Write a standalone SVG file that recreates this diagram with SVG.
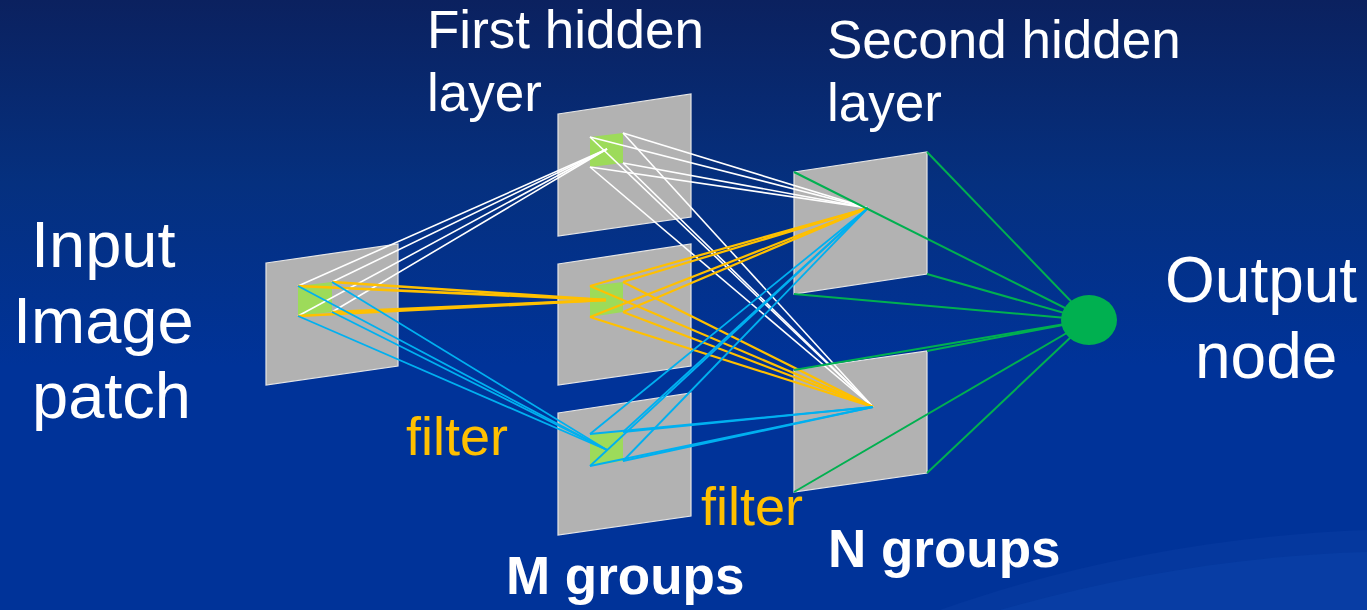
<svg xmlns="http://www.w3.org/2000/svg" width="1367" height="610" viewBox="0 0 1367 610">
<defs>
<linearGradient id="bg" x1="0" y1="0" x2="0" y2="1">
<stop offset="0" stop-color="#0b215f"/>
<stop offset="0.3" stop-color="#05307f"/>
<stop offset="0.6" stop-color="#003399"/>
<stop offset="1" stop-color="#003399"/>
</linearGradient>
<style>
.plane{fill:#b2b2b2;stroke:#e6e6e6;stroke-width:1.2}
.patch{fill:#9ddb5a}
.w{stroke:#ffffff;stroke-width:1.6;fill:none}
.y{stroke:#ffc000;stroke-width:2.2;fill:none}
.b{stroke:#00b0f0;stroke-width:1.8;fill:none}
.g{stroke:#00b050;stroke-width:2;fill:none}
.t{font-family:"Liberation Sans",Arial,sans-serif;fill:#ffffff}
.f{font-family:"Liberation Sans",Arial,sans-serif;fill:#ffc000}
</style>
</defs>
<rect x="0" y="0" width="1367" height="610" fill="url(#bg)"/>
<path d="M940,610 C1080,560 1230,535 1367,530 L1367,610 Z" fill="#0a3fa3" opacity="0.45"/>
<path d="M1000,610 C1120,575 1250,555 1367,552 L1367,610 Z" fill="#0d46ad" opacity="0.4"/>

<g id="input-patch">
<polygon class="plane" points="266,263 398,244 398,366 266,385"/>
<polygon class="patch" points="298,286 332,282 332,312 298,316"/>
</g>
<g id="hidden1-a">
<polygon class="plane" points="558,114 691,94 691,217 558,236"/>
<polygon class="patch" points="590,137 623,133 623,163 590,167"/>
</g>
<g id="hidden1-b">
<polygon class="plane" points="558,264 691,244 691,366 558,385"/>
<polygon class="patch" points="590,286 623,282 623,312 590,317"/>
</g>
<g id="hidden1-c">
<polygon class="plane" points="558,413 691,393 691,516 558,535"/>
<polygon class="patch" points="590,434 623,432 623,461 590,466"/>
</g>
<g id="hidden2-a">
<polygon class="plane" points="794,172 927,152 927,274 794,294"/>
</g>
<g id="hidden2-b">
<polygon class="plane" points="794,370 927,351 927,473 794,492"/>
</g>

<g id="connectors">
<g class="w">
<line x1="298" y1="286" x2="607" y2="149"/>
<line x1="332" y1="282" x2="607" y2="149"/>
<line x1="332" y1="312" x2="607" y2="149"/>
<line x1="298" y1="316" x2="607" y2="149"/>
</g>
<g class="y" style="stroke-width:2.6">
<line x1="298" y1="286" x2="606" y2="300"/>
<line x1="332" y1="282" x2="606" y2="300"/>
<line x1="332" y1="312" x2="606" y2="300"/>
<line x1="298" y1="316" x2="606" y2="300"/>
</g>
<g class="b">
<line x1="298" y1="286" x2="607" y2="450"/>
<line x1="332" y1="282" x2="607" y2="450"/>
<line x1="332" y1="312" x2="607" y2="450"/>
<line x1="298" y1="316" x2="607" y2="450"/>
</g>
<g class="w">
<line x1="590" y1="137" x2="868" y2="208"/>
<line x1="623" y1="133" x2="868" y2="208"/>
<line x1="623" y1="163" x2="868" y2="208"/>
<line x1="590" y1="167" x2="868" y2="208"/>
<line x1="590" y1="137" x2="873" y2="407"/>
<line x1="623" y1="133" x2="873" y2="407"/>
<line x1="623" y1="163" x2="873" y2="407"/>
<line x1="590" y1="167" x2="873" y2="407"/>
</g>
<g class="y">
<line x1="590" y1="286" x2="868" y2="208"/>
<line x1="623" y1="282" x2="868" y2="208"/>
<line x1="623" y1="312" x2="868" y2="208"/>
<line x1="590" y1="317" x2="868" y2="208"/>
<line x1="590" y1="286" x2="873" y2="407"/>
<line x1="623" y1="282" x2="873" y2="407"/>
<line x1="623" y1="312" x2="873" y2="407"/>
<line x1="590" y1="317" x2="873" y2="407"/>
</g>
<g class="b">
<line x1="590" y1="434" x2="868" y2="208"/>
<line x1="623" y1="432" x2="868" y2="208"/>
<line x1="623" y1="461" x2="868" y2="208"/>
<line x1="590" y1="466" x2="868" y2="208"/>
<line x1="590" y1="434" x2="873" y2="407"/>
<line x1="623" y1="432" x2="873" y2="407"/>
<line x1="623" y1="461" x2="873" y2="407"/>
<line x1="590" y1="466" x2="873" y2="407"/>
</g>
<g class="g">
<line x1="927" y1="152" x2="1089" y2="320"/>
<line x1="794" y1="172" x2="1089" y2="320"/>
<line x1="927" y1="274" x2="1089" y2="320"/>
<line x1="794" y1="294" x2="1089" y2="320"/>
<line x1="794" y1="370" x2="1089" y2="320"/>
<line x1="927" y1="351" x2="1089" y2="320"/>
<line x1="794" y1="492" x2="1089" y2="320"/>
<line x1="927" y1="473" x2="1089" y2="320"/>
</g>
</g>

<g id="output-node">
<ellipse cx="1089" cy="320" rx="28" ry="25" fill="#00b050"/>
</g>

<g id="labels">
<text class="t" x="427" y="48" font-size="53">First hidden</text>
<text class="t" x="427" y="111" font-size="53">layer</text>
<text class="t" x="827" y="58" font-size="53">Second hidden</text>
<text class="t" x="827" y="121" font-size="53">layer</text>
<text class="t" x="31" y="267" font-size="65">Input</text>
<text class="t" x="13" y="343" font-size="65">Image</text>
<text class="t" x="32" y="418" font-size="65">patch</text>
<text class="t" x="1165" y="302" font-size="64">Output</text>
<text class="t" x="1195" y="378" font-size="64">node</text>
<text class="f" x="406" y="455" font-size="54">filter</text>
<text class="f" x="701" y="525" font-size="54">filter</text>
<text class="t" x="506" y="594" font-size="53" font-weight="bold">M groups</text>
<text class="t" x="828" y="567" font-size="53" font-weight="bold">N groups</text>
</g>
</svg>
